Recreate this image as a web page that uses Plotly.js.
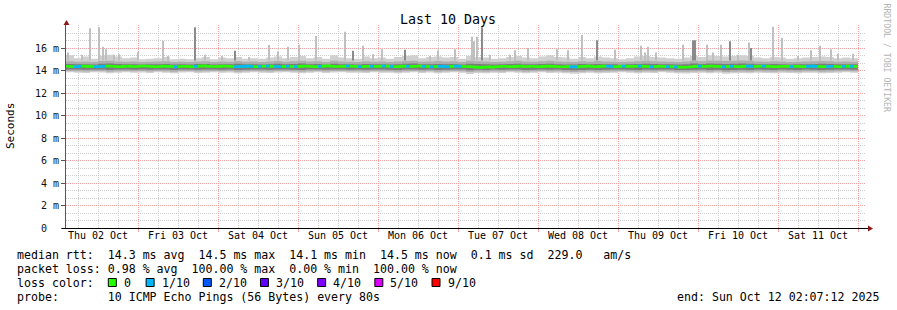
<!DOCTYPE html>
<html><head><meta charset="utf-8">
<script src="https://cdn.plot.ly/plotly-3.0.1.min.js"></script>
<style>html,body{margin:0;padding:0;background:#fff}</style>
</head><body><div id="chart" style="width:897px;height:310px"></div>
<script>
// ---------------- DATA ----------------
const dayLabels = ["Thu 02 Oct","Fri 03 Oct","Sat 04 Oct","Sun 05 Oct","Mon 06 Oct","Tue 07 Oct","Wed 08 Oct","Thu 09 Oct","Fri 10 Oct","Sat 11 Oct"];
const yTickVals = [0,2,4,6,8,10,12,14,16];
const yTickText = ["0\u00a0\u00a0","2 m","4 m","6 m","8 m","10 m","12 m","14 m","16 m"];

// smoke bands (ms), one value every 2.4 h from Oct 2 02:24
const lightTop = [15.35,15.1,15.25,15.05,15.3,15.4,15.25,15.1,15.15,15.0, 15.05,15.1,15.2,15.0,15.05,15.0,15.1,15.2,15.0,15.15,
 15.1,15.2,15.05,15.1,15.05,15.15,15.25,15.1,15.2,15.3, 15.1,15.2,15.05,15.35,15.15,15.1,15.05,15.25,15.1,15.15,
 15.05,15.2,15.3,15.35,15.1,15.2,15.25,15.15,15.2,15.05, 15.3,15.2,15.15,15.05,15.1,15.2,15.3,15.15,15.1,15.25,
 15.35,15.2,15.15,15.05,15.2,15.1,15.25,15.15,15.1,15.0, 15.1,15.25,15.3,15.2,15.15,15.1,15.05,15.15,15.3,15.2,
 15.35,15.3,15.25,15.3,15.35,15.3,15.15,15.1,15.2,15.15, 15.05,15.1,15.15,15.2,15.25,15.2,15.1,15.15,15.1,15.1];
const midTop = [14.82,14.78,14.8,14.76,14.84,14.86,14.8,14.78,14.8,14.76, 14.78,14.8,14.82,14.76,14.78,14.75,14.8,14.82,14.76,14.8,
 14.78,14.84,14.78,14.8,14.76,14.8,14.84,14.78,14.82,14.86, 14.8,14.82,14.76,14.86,14.8,14.78,14.76,14.82,14.78,14.8,
 14.76,14.8,14.84,14.86,14.78,14.8,14.84,14.8,14.82,14.76, 14.86,14.82,14.8,14.76,14.78,14.82,14.86,14.8,14.78,14.82,
 14.86,14.8,14.78,14.76,14.82,14.78,14.84,14.8,14.78,14.75, 14.78,14.82,14.86,14.82,14.8,14.78,14.76,14.8,14.86,14.82,
 14.88,14.86,14.84,14.86,14.88,14.86,14.8,14.78,14.82,14.8, 14.76,14.78,14.8,14.82,14.84,14.82,14.78,14.8,14.78,14.78];
const darkTop = [14.58,14.55,14.56,14.54,14.6,14.62,14.57,14.55,14.56,14.54, 14.55,14.56,14.58,14.54,14.55,14.53,14.57,14.58,14.54,14.56,
 14.55,14.6,14.55,14.56,14.54,14.56,14.6,14.55,14.58,14.62, 14.56,14.58,14.54,14.6,14.56,14.55,14.54,14.58,14.55,14.56,
 14.54,14.56,14.6,14.62,14.55,14.56,14.58,14.56,14.57,14.54, 14.6,14.58,14.56,14.53,14.55,14.57,14.6,14.56,14.55,14.57,
 14.6,14.56,14.54,14.53,14.57,14.55,14.58,14.56,14.55,14.52, 14.55,14.57,14.6,14.57,14.56,14.55,14.53,14.56,14.62,14.58,
 14.62,14.6,14.58,14.6,14.62,14.6,14.56,14.55,14.57,14.56, 14.54,14.55,14.56,14.58,14.6,14.57,14.55,14.56,14.55,14.55];
const darkBot = [14.1,14.08,14.06,14.1,14.08,14.05,14.08,14.1,14.07,14.08, 14.06,14.1,14.08,14.05,14.08,14.1,14.06,14.08,14.1,14.07,
 14.08,14.05,14.07,14.1,14.08,14.06,14.08,14.1,14.07,14.05, 14.08,14.1,14.06,14.08,14.1,14.07,14.08,14.06,14.1,14.08,
 14.07,14.05,14.08,14.1,14.06,14.08,14.05,14.07,14.1,14.08, 14.02,14.06,14.04,14.08,14.06,14.1,14.08,14.05,14.07,14.1,
 14.06,14.08,14.04,14.02,14.05,14.07,14.04,14.06,14.08,14.1, 14.07,14.05,14.08,14.06,14.1,14.08,14.05,14.04,14.06,14.08,
 14.05,14.07,14.02,14.05,14.06,14.04,14.08,14.06,14.05,14.08, 14.06,14.05,14.08,14.07,14.05,14.06,14.08,14.1,14.07,14.07];
const midBot = [13.96,13.94,13.92,13.96,13.95,13.9,13.94,13.96,13.93,13.95, 13.92,13.96,13.94,13.9,13.95,13.96,13.92,13.94,13.96,13.93,
 13.95,13.9,13.93,13.96,13.94,13.92,13.95,13.96,13.93,13.9, 13.94,13.96,13.92,13.95,13.96,13.93,13.94,13.92,13.96,13.94,
 13.93,13.9,13.94,13.96,13.92,13.95,13.9,13.93,13.96,13.94, 13.86,13.92,13.9,13.94,13.92,13.96,13.94,13.9,13.93,13.96,
 13.92,13.94,13.9,13.87,13.9,13.93,13.9,13.92,13.94,13.96, 13.93,13.9,13.94,13.92,13.96,13.94,13.9,13.89,13.92,13.94,
 13.9,13.93,13.87,13.9,13.92,13.9,13.94,13.92,13.9,13.94, 13.92,13.9,13.94,13.93,13.9,13.92,13.94,13.96,13.93,13.93];
const lightBot = [13.84,13.8,13.78,13.84,13.82,13.76,13.8,13.84,13.8,13.82, 13.78,13.84,13.8,13.75,13.82,13.84,13.78,13.8,13.84,13.8,
 13.82,13.76,13.8,13.84,13.8,13.78,13.82,13.84,13.8,13.76, 13.8,13.84,13.78,13.82,13.84,13.8,13.8,13.78,13.84,13.8,
 13.8,13.76,13.8,13.84,13.78,13.82,13.76,13.8,13.84,13.8, 13.7,13.78,13.76,13.8,13.78,13.84,13.8,13.76,13.8,13.84,
 13.78,13.8,13.76,13.72,13.76,13.8,13.76,13.78,13.8,13.84, 13.8,13.76,13.8,13.78,13.84,13.8,13.76,13.74,13.78,13.8,
 13.76,13.8,13.72,13.76,13.78,13.76,13.8,13.78,13.76,13.8, 13.78,13.76,13.8,13.8,13.76,13.78,13.8,13.84,13.8,13.8];

// median rtt (ms), one value every 1.2 h from Oct 2 02:24
const median = [14.38,14.36,14.34,14.38,14.4,14.37,14.35,14.33,14.36,14.38,14.4,14.38,14.36,14.34,14.37,14.39,14.36,14.35,14.38,14.4,
 14.38,14.36,14.34,14.36,14.39,14.37,14.35,14.33,14.36,14.38,14.36,14.34,14.37,14.39,14.41,14.38,14.36,14.35,14.37,14.4,
 14.38,14.36,14.33,14.35,14.37,14.39,14.36,14.34,14.36,14.38,14.4,14.37,14.35,14.33,14.36,14.38,14.36,14.34,14.37,14.39,
 14.38,14.36,14.34,14.37,14.39,14.41,14.38,14.36,14.35,14.37,14.4,14.38,14.36,14.34,14.36,14.38,14.37,14.35,14.38,14.4,
 14.38,14.36,14.34,14.36,14.39,14.37,14.35,14.38,14.4,14.37,14.35,14.33,14.36,14.38,14.36,14.34,14.37,14.39,14.37,14.36,
 14.35,14.33,14.3,14.28,14.3,14.32,14.3,14.34,14.36,14.38,14.36,14.34,14.37,14.39,14.36,14.35,14.38,14.36,14.34,14.37,
 14.39,14.37,14.35,14.33,14.34,14.36,14.34,14.32,14.35,14.37,14.39,14.36,14.34,14.37,14.39,14.38,14.36,14.34,14.37,14.39,
 14.37,14.35,14.38,14.4,14.37,14.35,14.33,14.36,14.38,14.36,14.34,14.36,14.33,14.3,14.29,14.31,14.34,14.37,14.39,14.36,
 14.38,14.4,14.37,14.35,14.33,14.36,14.38,14.36,14.34,14.37,14.39,14.37,14.35,14.38,14.4,14.37,14.35,14.33,14.36,14.38,
 14.37,14.35,14.38,14.36,14.34,14.37,14.39,14.37,14.35,14.33,14.36,14.38,14.36,14.34,14.37,14.39,14.37,14.36,14.36];
// packets lost out of 10 per median sample
const loss = [0,0,1,1,0,0,0,1,1,1,0,0,0,0,0,0,0,0,0,0,
 0,0,0,0,0,0,0,1,0,0,0,0,1,0,0,0,0,0,0,0,
 0,0,1,1,1,1,1,0,1,0,1,0,1,1,0,1,0,1,0,0,
 0,0,0,1,0,0,0,0,0,0,1,0,0,1,0,0,1,0,0,1,
 0,1,0,0,0,1,0,0,0,1,0,1,0,1,1,1,0,1,1,0,
 0,0,0,0,0,0,0,0,0,0,0,0,0,0,0,0,0,0,0,0,
 0,0,0,0,0,0,1,1,0,0,0,0,0,0,0,1,1,0,0,1,
 0,0,0,1,0,0,1,0,0,0,1,0,1,0,0,0,0,0,1,0,
 0,0,0,0,1,0,1,0,0,0,1,1,0,0,1,0,0,0,0,0,
 0,1,0,0,0,1,1,1,0,0,1,1,0,0,1,0,1,0];

// outlier pings: hours after Oct 2 00:00 and peak (ms)
const lightSpikeHours = [3.0,7.2,9.6,12.3,13.5,14.4,16.8,18.3,24.0,31.5,33.0,44.1,49.2,57.3,63.3,66.0,69.0,72.3,77.4,86.1,91.5,94.5,97.2,111.6,114.0,119.1,124.2,124.8,125.7,129.6,135.6,137.1,141.0,149.7,153.0,157.2,167.1,174.9,176.1,177.0,179.4,187.5,194.7,196.5,198.9,204.0,207.3,214.5,217.2,222.0,225.9,228.6,231.9,234.0,238.5];
const lightSpikeTop = [15.6,15.4,17.75,17.85,16.1,15.9,15.4,15.45,15.65,16.65,15.3,15.4,15.3,15.2,16.27,15.7,16.1,16.3,17.07,17.45,16.2,15.45,15.9,15.3,15.8,15.9,17.0,16.6,17.0,15.4,15.4,15.8,16.0,15.9,15.8,17.15,15.85,16.2,15.6,16.1,15.6,16.3,16.3,15.6,16.3,15.4,16.5,17.9,16.9,15.3,15.8,16.2,15.9,15.5,15.5];
const darkSpikeHours = [41.1,53.1,88.5,104.1,127.2,161.7,190.5,191.1,201.6,207.9];
const darkSpikeTop = [17.85,15.75,15.75,15.85,17.85,16.7,16.7,16.7,16.6,16.0];

const lossLabels = ["0","1/10","2/10","3/10","4/10","5/10","9/10"];
const lossColors = ["#26ff00","#00b8ff","#0059ff","#5e00ff","#7e00ff","#dd00ff","#ff0000"];

// ---------------- BUILD ----------------
const H3600 = 3600*1000;
const base = Date.UTC(2025,9,2,0,0,0);
const ds = ms => new Date(ms).toISOString().slice(0,19).replace('T',' ');
const bandX = lightTop.map((_,i)=>ds(base + 2.4*H3600*(i+1)));
const medX = median.map((_,j)=>ds(base + 2.4*H3600 + 1.2*H3600*j));

function band(lo, hi, color){
  return [
    {x:bandX, y:lo, type:'scatter', mode:'lines', line:{width:0, shape:'hv'}, hoverinfo:'skip', showlegend:false},
    {x:bandX, y:hi, type:'scatter', mode:'lines', line:{width:0, shape:'hv'}, fill:'tonexty', fillcolor:color, hoverinfo:'skip', showlegend:false}
  ];
}
function spikes(hours, tops, color, w){
  const x=[], y=[];
  hours.forEach((h,i)=>{ const t=ds(base+h*H3600); x.push(t,t,null); y.push(14.9,tops[i],null); });
  return {x, y, type:'scatter', mode:'lines', line:{color, width:w}, hoverinfo:'skip', showlegend:false};
}
const bx=[], by=[];
for(let j=0;j<median.length-1;j++){
  if(loss[j]){
    bx.push(medX[j]); by.push(median[j]);
    if(!loss[j+1]){ bx.push(medX[j+1]); by.push(median[j]); bx.push(null); by.push(null); }
  }
}

const traces = [
  ...band(lightBot, lightTop, '#d0d0d0'),
  spikes(lightSpikeHours, lightSpikeTop, '#bdbdbd', 1.9),
  ...band(midBot, midTop, '#adadad'),
  ...band(darkBot, darkTop, '#7c7c7c'),
  spikes(darkSpikeHours, darkSpikeTop, '#858585', 1.9),
  {x:medX, y:median, type:'scatter', mode:'lines', line:{color:lossColors[0], width:2.6, shape:'hv'}, hoverinfo:'skip', showlegend:false},
  {x:bx, y:by, type:'scatter', mode:'lines', line:{color:lossColors[1], width:2.6, shape:'hv'}, connectgaps:false, hoverinfo:'skip', showlegend:false},
  {x:[ds(base+2.4*H3600), ds(base+242.4*H3600)], y:[null,null], xaxis:'x2', type:'scatter', mode:'lines', hoverinfo:'skip', showlegend:false}
];

// pixel helpers for the page furniture
const L=66, T=25, W=800, HH=203;
const PX = p => (p-L)/W, PY = p => (T+HH-p)/HH;
const MONO = 'DejaVu Sans Mono';
const nb = s => s.replace(/ /g,'\u00a0');
const ann = (text, px, py, size, opts={}) => Object.assign({text:nb(text), x:PX(px), y:PY(py), xref:'paper', yref:'paper', showarrow:false, borderpad:0, xanchor:'left', yanchor:'middle', font:{family:MONO, size, color:'#000'}}, opts);

const annotations = [
  ann('Last 10 Days', 448, 19, 13.3, {xanchor:'center'}),
  ann('Seconds', 11, 126, 11, {xanchor:'center', textangle:-90}),
  ann('RRDTOOL / TOBI OETIKER', 886, 58.5, 8.2, {xanchor:'center', textangle:90, font:{family:MONO, size:8.2, color:'#b4b4b4'}}),
  ann('median rtt:  14.3 ms avg  14.5 ms max  14.1 ms min  14.5 ms now  0.1 ms sd  229.0   am/s', 16, 254.5, 11.6),
  ann('packet loss: 0.98 % avg  100.00 % max  0.00 % min  100.00 % now', 16, 268.5, 11.6),
  ann('loss color:', 16, 282.5, 11.6),
  ann('probe:       10 ICMP Echo Pings (56 Bytes) every 80s', 16, 296.5, 11.6),
  ann('end: Sun Oct 12 02:07:12 2025', 880, 296.5, 11.6, {xanchor:'right'})
];
const shapes = [];
let bxp = 108.3;
lossLabels.forEach((lab,k)=>{
  shapes.push({type:'rect', xref:'paper', yref:'paper', x0:PX(bxp), x1:PX(bxp+8), y0:PY(286.5), y1:PY(278.5), line:{color:'#000', width:1}, fillcolor:lossColors[k]});
  annotations.push(ann(lab, bxp+14.5, 282.5, 11.6));
  bxp = bxp + 14.5 + lab.length*7.02 + (k===0 ? 16.3 : 14.6);
});
// axis extensions and arrow heads
shapes.push({type:'line', xref:'paper', yref:'paper', x0:PX(866), x1:PX(869), y0:PY(228.5), y1:PY(228.5), line:{color:'#000', width:1}});
shapes.push({type:'line', xref:'paper', yref:'paper', x0:PX(62), x1:PX(66), y0:PY(228.5), y1:PY(228.5), line:{color:'#000', width:1}});
shapes.push({type:'line', xref:'paper', yref:'paper', x0:PX(66.5), x1:PX(66.5), y0:PY(25), y1:PY(22), line:{color:'#555', width:1}});
shapes.push({type:'path', xref:'paper', yref:'paper', path:`M ${PX(868)} ${PY(225.5)} L ${PX(873)} ${PY(228.5)} L ${PX(868)} ${PY(231.5)} Z`, fillcolor:'#8b1a1a', line:{width:0}});
shapes.push({type:'path', xref:'paper', yref:'paper', path:`M ${PX(63.5)} ${PY(25)} L ${PX(66.5)} ${PY(20)} L ${PX(69.5)} ${PY(25)} Z`, fillcolor:'#8b1a1a', line:{width:0}});

const midnights = [], noons = [];
for(let d=1; d<=10; d++) midnights.push(ds(base + d*24*H3600));
for(let d=0; d<10; d++) noons.push(ds(base + (d*24+12)*H3600));
const xr = [ds(base+2.4*H3600), ds(base+242.4*H3600)];

const layout = {
  width:897, height:310,
  margin:{l:L, r:897-L-W, t:T, b:310-T-HH, pad:0},
  paper_bgcolor:'#fff', plot_bgcolor:'#fff',
  showlegend:false, hovermode:false,
  xaxis:{type:'date', range:xr, tickmode:'array', tickvals:midnights, showticklabels:false,
    showgrid:true, gridcolor:'#f2a0a0', griddash:'1px,1px', gridwidth:1,
    ticks:'outside', ticklen:3, tickcolor:'#f2a0a0',
    minor:{dtick:6*H3600, tick0:ds(base), showgrid:true, gridcolor:'#cfcfcf', griddash:'1px,1px', ticks:''},
    showline:true, linecolor:'#000', linewidth:1, zeroline:false, fixedrange:true},
  xaxis2:{type:'date', overlaying:'x', anchor:'y', side:'bottom', range:xr, tickmode:'array', tickvals:noons, ticktext:dayLabels,
    showgrid:false, showline:false, ticks:'', zeroline:false,
    tickfont:{family:MONO, size:10, color:'#000'}, fixedrange:true},
  yaxis:{range:[0, HH/11.25], tickmode:'array', tickvals:yTickVals, ticktext:yTickText,
    tickfont:{family:MONO, size:10, color:'#111'},
    showgrid:true, gridcolor:'#f2a0a0', griddash:'1px,1px', gridwidth:1,
    minor:{dtick:2/3, tick0:0, showgrid:true, gridcolor:'#cfcfcf', griddash:'1px,1px', ticks:''},
    ticks:'outside', ticklen:4, tickcolor:'#555', showline:true, linecolor:'#555', linewidth:1, zeroline:false, fixedrange:true},
  annotations, shapes
};
Plotly.newPlot('chart', traces, layout, {staticPlot:true, displayModeBar:false});
</script></body></html>
